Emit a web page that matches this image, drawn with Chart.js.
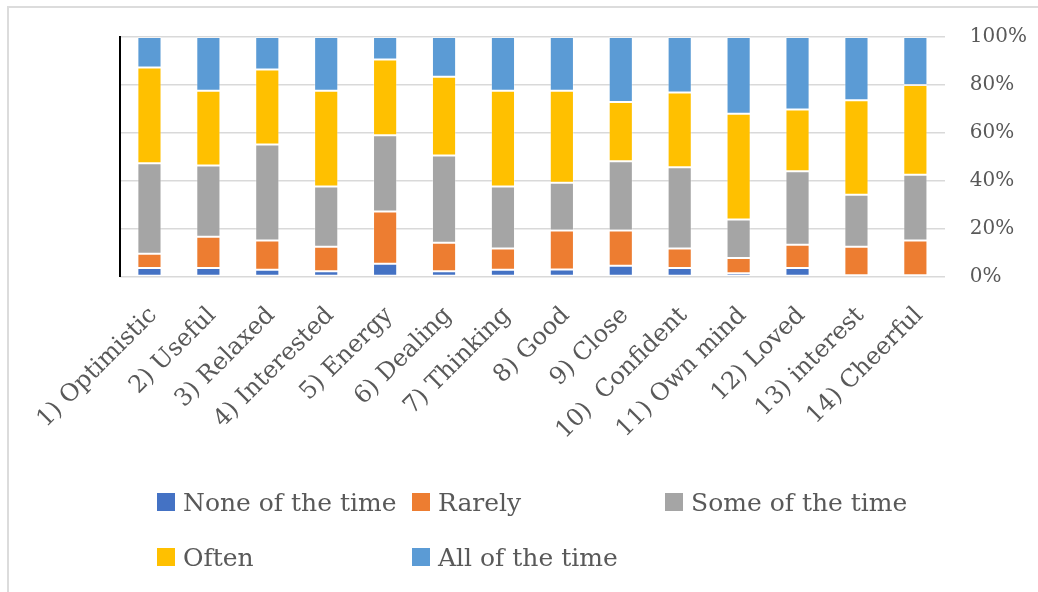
<!DOCTYPE html>
<html>
<head>
<meta charset="utf-8">
<script src="https://cdn.jsdelivr.net/npm/chart.js@4/dist/chart.umd.min.js"></script>
<style>
  html, body { margin: 0; padding: 0; background: #fff; }
  #wrap { position: relative; width: 1038px; height: 592px; overflow: hidden; }
  #frame { position: absolute; left: 7px; top: 6px; width: 1200px; height: 800px;
           border-top: 2px solid #dcdcdc; border-left: 2px solid #dcdcdc; box-sizing: border-box; }
  canvas { position: absolute; left: 0; top: 0; }
  #legend { position: absolute; left: 157px; top: 487px; display: grid;
            grid-template-columns: 255px 253px auto; grid-auto-rows: 55px;
            font-family: "DejaVu Serif", serif; font-size: 25px; color: #595959; }
  .li { display: flex; align-items: center; height: 30px; white-space: pre; }
  .sw { width: 18px; height: 18px; margin-right: 8px; flex: none; }
</style>
</head>
<body>
<div id="wrap">
  <div id="frame"></div>
  <canvas id="c" width="1038" height="592"></canvas>
  <div id="legend"></div>
</div>
<script>
const categories = ["1) Optimistic", "2) Useful", "3) Relaxed", "4) Interested", "5) Energy",
  "6) Dealing", "7) Thinking", "8) Good", "9) Close", "10)  Confident", "11) Own mind",
  "12) Loved", "13) interest", "14) Cheerful"];
const seriesNames = ["None of the time", "Rarely", "Some of the time", "Often", "All of the time"];
const noneOfTheTime = [3.6, 3.6, 2.8, 2.2, 5.3, 2.2, 2.8, 2.9, 4.5, 3.6, 1.4, 3.6, 0.5, 0.5];
const rarely        = [5.9, 13.0, 12.2, 10.2, 21.8, 11.9, 8.9, 16.3, 14.7, 8.1, 6.3, 9.7, 11.9, 14.5];
const someOfTheTime = [37.8, 29.8, 40.1, 25.2, 31.9, 36.4, 25.9, 20.0, 28.9, 33.9, 16.1, 30.6, 21.7, 27.5];
const often         = [40.0, 31.2, 31.3, 40.0, 31.6, 32.9, 40.0, 38.4, 24.8, 31.2, 44.2, 25.8, 39.5, 37.5];
const allOfTheTime  = [12.7, 22.4, 13.6, 22.4, 9.4, 16.6, 22.4, 22.4, 27.1, 23.2, 32.0, 30.3, 26.4, 20.0];
const yTicks = [0, 20, 40, 60, 80, 100];

const colors = ["#4472C4", "#ED7D31", "#A5A5A5", "#FFC000", "#5B9BD5"];
const seriesData = [noneOfTheTime, rarely, someOfTheTime, often, allOfTheTime];

const htmlLegend = {
  id: 'htmlLegend',
  afterUpdate(chart) {
    const box = document.getElementById('legend');
    box.innerHTML = '';
    const items = chart.options.plugins.legend.labels.generateLabels(chart);
    items.forEach(it => {
      const d = document.createElement('div');
      d.className = 'li';
      const s = document.createElement('span');
      s.className = 'sw';
      s.style.background = it.fillStyle;
      const t = document.createElement('span');
      t.textContent = it.text;
      d.appendChild(s); d.appendChild(t);
      box.appendChild(d);
    });
  }
};

const font = { family: "DejaVu Serif", size: 20 };
new Chart(document.getElementById('c'), {
  type: 'bar',
  data: {
    labels: categories,
    datasets: seriesNames.map((n, i) => ({
      label: n,
      data: seriesData[i],
      backgroundColor: colors[i],
      borderColor: 'rgba(255,255,255,0.3)',
      borderWidth: 1,
      borderSkipped: false,
      barPercentage: 0.41,
      categoryPercentage: 1.0
    }))
  },
  plugins: [htmlLegend],
  options: {
    responsive: false,
    animation: false,
    layout: { padding: { left: 120, right: -14, top: 37, bottom: 122 } },
    plugins: { legend: { display: false }, tooltip: { enabled: false } },
    scales: {
      x: {
        stacked: true,
        grid: { display: false, drawTicks: false },
        border: { display: false },
        ticks: {
          autoSkip: false, minRotation: 45, maxRotation: 45,
          padding: 25, labelOffset: 4,
          color: '#595959', font: { family: "DejaVu Serif", size: 24 }
        }
      },
      y: {
        stacked: true, position: 'right', min: 0, max: 100,
        afterBuildTicks: (axis) => { axis.ticks = yTicks.map(v => ({ value: v })); },
        grid: { color: '#d9d9d9', lineWidth: 1.5, drawTicks: false },
        border: { display: false },
        ticks: { padding: 25, color: '#595959', font: font, callback: v => v + '%' }
      },
      yl: {
        position: 'left', min: 0, max: 1,
        grid: { display: false, drawTicks: false },
        ticks: { display: false },
        border: { display: true, color: '#000', width: 2 }
      }
    }
  }
});
</script>
</body>
</html>
